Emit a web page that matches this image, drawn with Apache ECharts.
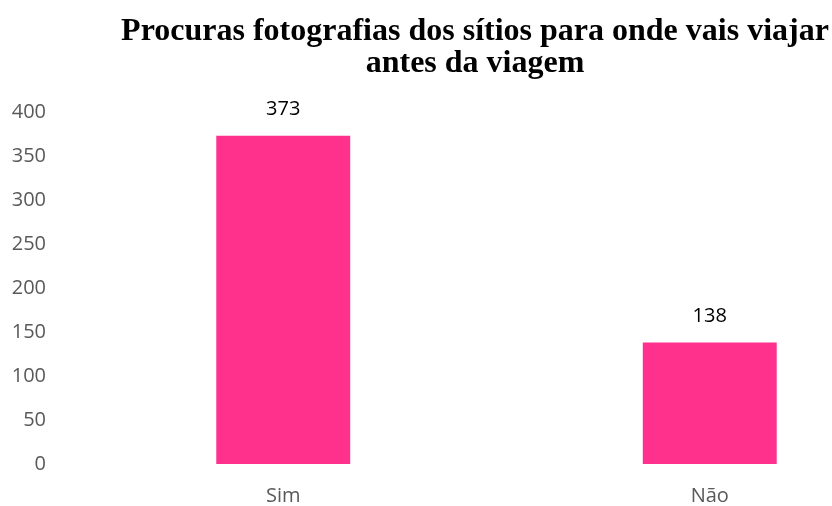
<!DOCTYPE html>
<html>
<head>
<meta charset="utf-8">
<script src="https://cdn.jsdelivr.net/npm/echarts@6/dist/echarts.min.js"></script>
<style>
  html, body { margin: 0; padding: 0; background: #fff; }
  #chart { width: 832px; height: 506px; }
</style>
</head>
<body>
<div id="chart"></div>
<script>
// dados
var categories = ["Sim", "Não"];
var answers = [373, 138];
var yTicks = [0, 50, 100, 150, 200, 250, 300, 350, 400];

var myChart = echarts.init(document.getElementById("chart"));

var option = {
  animation: false,
  title: {
    text: "Procuras fotografias dos sítios para onde vais viajar\nantes da viagem",
    left: 470,
    top: 11,
    textAlign: "center",
    textStyle: {
      fontFamily: "Liberation Serif",
      fontWeight: "bold",
      fontSize: 32,
      lineHeight: 32,
      color: "#000"
    }
  },
  // a área do gráfico estende-se para além da margem direita (como no original)
  grid: {
    left: 70,
    width: 853,
    top: 112,
    bottom: 42,
    containLabel: false,
    outerBoundsMode: "none"
  },
  xAxis: {
    type: "category",
    data: categories,
    axisLine: { show: false },
    axisTick: { show: false },
    axisLabel: {
      margin: 22,
      fontFamily: "Open Sans",
      fontSize: 20,
      color: "#595959"
    }
  },
  yAxis: {
    type: "value",
    min: yTicks[0],
    max: yTicks[yTicks.length - 1],
    interval: 50,
    splitLine: { show: false },
    axisLine: { show: false },
    axisTick: { show: false },
    axisLabel: {
      margin: 24,
      fontFamily: "Open Sans",
      fontSize: 20,
      color: "#595959"
    }
  },
  series: [
    {
      type: "bar",
      data: answers,
      barWidth: "31.4%",
      itemStyle: { color: "#FF318C" },
      label: {
        show: true,
        position: "top",
        distance: 16,
        fontFamily: "Open Sans",
        fontSize: 20,
        color: "#000"
      }
    }
  ]
};

myChart.setOption(option);
</script>
</body>
</html>
